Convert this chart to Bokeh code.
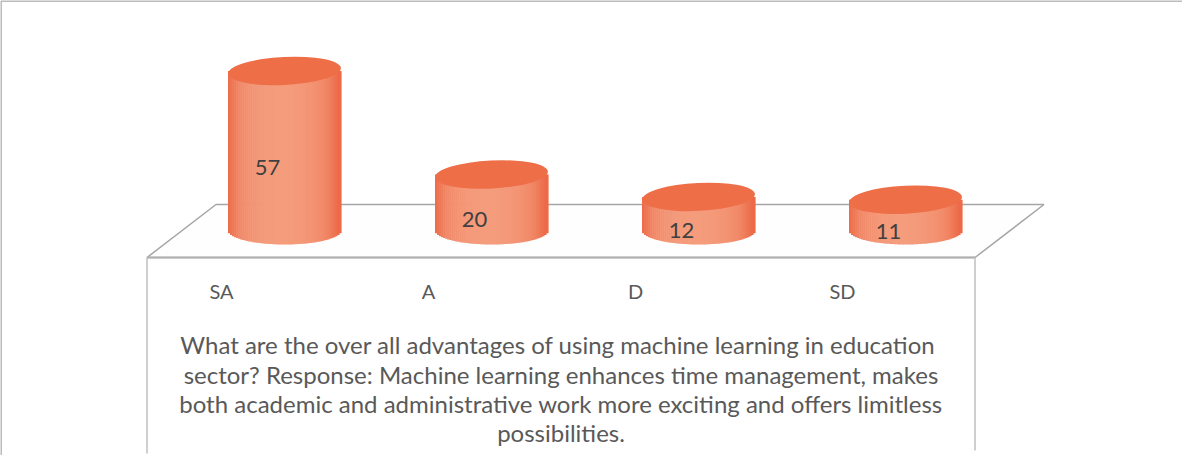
from bokeh.plotting import figure
from bokeh.models import Range1d, ColumnDataSource
from bokeh.core.properties import value
from bokeh.embed import file_html
from bokeh.resources import INLINE
import math

# ---------------- data ----------------
categories = ["SA", "A", "D", "SD"]
counts = [57, 20, 12, 11]
title_lines = [
    "What are the over all advantages of using  machine learning in education",
    "sector? Response: Machine learning enhances time management, makes",
    "both academic and administrative work more exciting and offers limitless",
    "possibilities.",
]

# ---------------- layout (pixel <-> data scale) ----------------
W, H = 1182, 455
PAGE_OFF = 8
PX_PER_CAT = 207.0      # pixels per category step
CAT0_PAGE_X = 292.0     # page x of first category centre
PX_PER_UNIT = 2.8       # pixels per count unit
ZERO_PAGE_Y = 238.0     # page y of value 0 (bottom ellipse centre)

def dx(px):   # pixel width -> x data units
    return px / PX_PER_CAT

def dy(px):   # pixel height -> y data units
    return px / PX_PER_UNIT

def xp(page_x):
    return (page_x - CAT0_PAGE_X) / PX_PER_CAT

def yp(page_y):
    return (ZERO_PAGE_Y - page_y) / PX_PER_UNIT

p = figure(width=W, height=H, output_backend="svg", toolbar_location=None,
           x_range=Range1d(xp(PAGE_OFF), xp(PAGE_OFF + W)),
           y_range=Range1d(yp(PAGE_OFF + H), yp(PAGE_OFF)),
           min_border=0)
p.xaxis.visible = False
p.yaxis.visible = False
p.grid.visible = False
p.outline_line_color = None
p.background_fill_color = "white"
p.border_fill_color = "white"

# outer chart border (left and top visible)
p.segment(x0=[xp(8.5), xp(8.5)], y0=[yp(8.5), yp(8.5)],
          x1=[xp(8.5), xp(1198)], y1=[yp(463), yp(8.5)],
          line_color="#A6A6A6", line_width=1.5)

# ---------------- 3D floor ----------------
n = len(categories)
front_l = -0.5 - dx(34)
front_r = front_l + n
depth_x = dx(69)
front_y = yp(265)
back_y = yp(212)
p.patch([front_l, front_l + depth_x, front_r + depth_x, front_r],
        [front_y, back_y, back_y, front_y],
        fill_color="#FEFEFE", line_color="#A6A6A6", line_width=1.5)
p.line([front_l, front_r], [front_y, front_y], line_color="#B0B0B0", line_width=2.2)
# front wall vertical edges
p.segment(x0=[front_l, front_r], y0=[front_y, front_y],
          x1=[front_l, front_r], y1=[yp(461), yp(458)],
          line_color="#BFBFBF", line_width=1.5)

# ---------------- cylinders ----------------
half_w = dx(56.5)
ell_h = dy(14)

def lerp_col(c1, c2, f):
    return "#%02x%02x%02x" % tuple(int(round(a + (b - a) * f)) for a, b in zip(c1, c2))

dark = (236, 106, 72)
light = (244, 156, 124)

N = 56
lefts, rights, tops, bottoms, colors = [], [], [], [], []
for i, v in enumerate(counts):
    for j in range(N):
        t0 = -1 + 2 * j / N
        t1 = -1 + 2 * (j + 1) / N
        tm = (t0 + t1) / 2
        # broad light band, darker at both edges
        f = max(0.0, 1 - ((tm + 0.05) / 1.0) ** 2) ** 0.6
        if tm > 0.75:
            f *= max(0.0, (1 - tm) / 0.25) ** 0.5
        if tm < -0.8:
            f *= max(0.0, (1 + tm) / 0.2) ** 0.5
        lefts.append(i + t0 * half_w)
        rights.append(i + t1 * half_w + dx(0.6))
        tops.append(v)
        bottoms.append(-ell_h * math.sqrt(max(0.0, 1 - tm * tm)))
        colors.append(lerp_col(dark, light, f))

p.quad(left=lefts, right=rights, top=tops, bottom=bottoms,
       fill_color=colors, line_color=None)

src = ColumnDataSource(dict(x=list(range(n)), top=counts,
                            cat=categories, lab=[str(c) for c in counts],
                            lx=[i - dx(17) for i in range(n)],
                            ly=[c / 2 - 6 for c in counts],
                            cx=[i - dx(63) for i in range(n)],
                            cy=[yp(298)] * n))

p.ellipse(x="x", y="top", width=2 * 56.5, height=28, width_units="screen",
          height_units="screen", angle=0.05, source=src,
          fill_color="#EE6E48", line_color=None)

# value labels
p.text(x="lx", y="ly", text="lab", source=src, text_font=value("Lato"),
       text_font_size="22px", text_color="#404040",
       text_align="center", text_baseline="middle")

# category labels
p.text(x="cx", y="cy", text="cat", source=src, text_font=value("Lato"),
       text_font_size="20px", text_color="#595959",
       text_align="center", text_baseline="middle")

# axis title (multi-line)
line_pages = [352, 382, 411, 440]
p.text(x=[(front_l + front_r) / 2] * len(title_lines),
       y=[yp(py) for py in line_pages], text=title_lines,
       text_font=value("Lato"), text_font_size="24px", text_color="#595959",
       text_align="center", text_baseline="middle")

open("out.html", "w").write(file_html(p, INLINE))
